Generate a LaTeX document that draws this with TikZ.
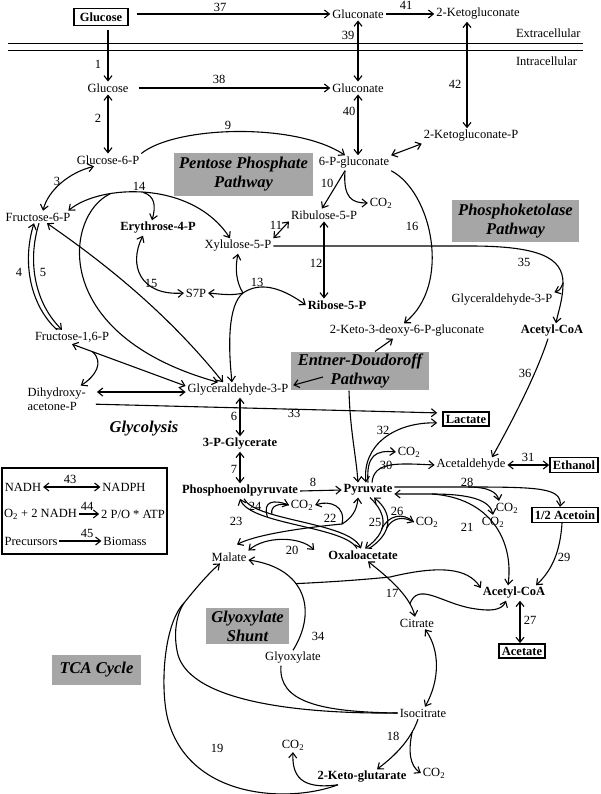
\documentclass[tikz,border=0pt]{standalone}
\usepackage{fontspec}
\setmainfont{Liberation Serif}
\usetikzlibrary{arrows.meta}

\begin{document}
\begin{tikzpicture}[x=1pt,y=-1pt,line width=1.1pt,
    >={Straight Barb[length=5pt,width=8pt]},
    met/.style={font=\fontsize{12.5}{14}\selectfont,inner sep=1.5pt},
    metb/.style={font=\fontsize{12.5}{14}\selectfont\bfseries,inner sep=1.5pt},
    ext/.style={metb,draw,line width=1.4pt,inner sep=3pt},
    num/.style={font=\fontsize{12.5}{14}\selectfont,inner sep=0pt},
    pathway/.style={fill=black!35,font=\fontsize{16.5}{19}\selectfont\bfseries\itshape,align=center,inner sep=0pt}]
  \useasboundingbox (0,0) rectangle (600,794);

  % membrane
  \draw[line width=0.9pt] (8,43) -- (583,43);
  \draw[line width=0.9pt] (8,50) -- (583,50);
  \node[met,anchor=west] (extra) at (514,33) {Extracellular};
  \node[met,anchor=west] (intra) at (514,61) {Intracellular};

  % pathway boxes
  \node[pathway,minimum width=139pt,minimum height=43pt] (ppp) at (243.5,174.5) {Pentose Phosphate\\Pathway};
  \node[pathway,minimum width=127pt,minimum height=42pt] (pkp) at (515.5,221) {Phosphoketolase\\Pathway};
  \node[pathway,minimum width=138pt,minimum height=38pt] (edp) at (360,371) {Entner-Doudoroff\\Pathway};
  \node[pathway,minimum width=83pt,minimum height=36pt] (gsh) at (247.5,626) {Glyoxylate\\Shunt};
  \node[pathway,minimum width=89pt,minimum height=30pt] (tca) at (96.5,670) {TCA Cycle};
  \node[font=\fontsize{16.5}{19}\selectfont\bfseries\itshape,inner sep=0pt] (glyc) at (144,429) {Glycolysis};

  % metabolites
  \node[ext,inner xsep=6pt,inner ysep=4pt] (glcex) at (101,17) {Glucose};
  \node[met] (glcnex) at (358,14) {Gluconate};
  \node[met] (kglcex) at (478,14) {2-Ketogluconate};
  \node[met] (glc) at (108,88) {Glucose};
  \node[met] (glcn) at (358,88) {Gluconate};
  \node[met] (kglcp) at (471,136) {2-Ketogluconate-P};
  \node[met] (g6p) at (108,160) {Glucose-6-P};
  \node[met] (pg6) at (354,163) {6-P-gluconate};
  \node[met] (f6p) at (38,217) {Fructose-6-P};
  \node[metb] (e4p) at (158,228) {Erythrose-4-P};
  \node[met] (x5p) at (238,246) {Xylulose-5-P};
  \node[met] (ru5p) at (324,215) {Ribulose-5-P};
  \node[met] (co2a) at (381,203) {CO\textsubscript{2}};
  \node[metb] (r5p) at (337,305) {Ribose-5-P};
  \node[met] (s7p) at (196,293) {S7P};
  \node[met] (f16p) at (72,337) {Fructose-1,6-P};
  \node[met,align=left,anchor=west] (dhap) at (25.5,399) {Dihydroxy-\\acetone-P};
  \node[met] (g3p) at (238,390) {Glyceraldehyde-3-P};
  \node[met] (kdpg) at (407,331) {2-Keto-3-deoxy-6-P-gluconate};
  \node[met] (g3pk) at (502,300) {Glyceraldehyde-3-P};
  \node[metb] (accoa) at (552,331) {Acetyl-CoA};
  \node[metb] (pg3) at (240,444) {3-P-Glycerate};
  \node[metb] (pep) at (240,491) {Phosphoenolpyruvate};
  \node[metb] (pyr) at (368,490) {Pyruvate};
  \node[ext] (lac) at (466,419) {Lactate};
  \node[met] (acald) at (471,465) {Acetaldehyde};
  \node[ext] (etoh) at (574,465) {Ethanol};
  \node[ext] (acn) at (565,515) {1/2 Acetoin};
  \node[met] (co2b) at (409,452) {CO\textsubscript{2}};
  \node[met] (co2c) at (507,508) {CO\textsubscript{2}};
  \node[met] (co2d) at (493,522) {CO\textsubscript{2}};
  \node[met] (co2e) at (302,505) {CO\textsubscript{2}};
  \node[met] (co2f) at (427,522) {CO\textsubscript{2}};
  \node[metb] (oaa) at (363,555) {Oxaloacetate};
  \node[met] (mal) at (229,557) {Malate};
  \node[metb] (accoab) at (514,593) {Acetyl-CoA};
  \node[ext] (ace) at (522,651) {Acetate};
  \node[met] (cit) at (417,623) {Citrate};
  \node[met] (glx) at (293,658) {Glyoxylate};
  \node[met] (icit) at (423,713) {Isocitrate};
  \node[metb] (akg) at (362,777) {2-Keto-glutarate};
  \node[met] (co2g) at (293,745) {CO\textsubscript{2}};
  \node[met] (co2h) at (434,773) {CO\textsubscript{2}};

  % legend
  \draw[line width=1.2pt] (2,468) rectangle (167,554);
  \node[met] (nadh) at (23,487) {NADH};
  \node[met] (nadph) at (124,487) {NADPH};
  \node[met] (nadhb) at (40.5,514) {O\textsubscript{2} + 2 NADH};
  \node[met] (atp) at (133,514) {2 P/O * ATP};
  \node[met] (prec) at (31,541) {Precursors};
  \node[met] (biom) at (125,541) {Biomass};
  \draw[<->] (nadh) -- (nadph);
  \draw[->] (nadhb) -- (atp);
  \draw[->] (prec) -- (biom);

  % reaction numbers
  \foreach \n/\x/\y in {37/220/7, 41/406/5, 1/98/64, 38/219/79, 39/348/35, 42/455/84,
      40/349/111, 2/98/118, 9/228/125, 3/57/181, 14/139/186, 10/327/183, 11/276/225,
      16/412/226, 4/19/272, 5/43/272, 12/316/263, 15/151/283, 13/257/282, 35/524/262,
      36/525/373, 33/294/413, 6/234/416, 32/383/430, 7/234/469, 30/386/465, 31/528/457,
      8/313/482, 28/467/482, 24/255/506, 23/236/521, 22/330/518, 25/375/522, 26/397/511,
      21/467/527, 20/292/550, 17/392/593, 29/564/557, 27/530/620, 34/318/636, 19/217/748,
      18/393/736, 43/70/479, 44/87/506, 45/87/533}
    \node[num] (r\n) at (\x,\y) {\n};

  % uptake and oxidation
  \draw[->,shorten <=8pt] (glcex.east |- glcnex.west) -- (glcnex.west);
  \draw[->] (glcnex.east) -- (kglcex.west);
  \draw[->,shorten <=4pt] (glcex.south -| glc.north) -- (glc.north);
  \draw[->,shorten <=8pt] (glc.east) -- (glcn.west);
  \draw[<->] (glcnex.south) -- (glcn.north);
  \draw[<->] ([xshift=-11]kglcex.south) -- ([xshift=-11]kglcex.south |- kglcp.north);
  \draw[<->] (glcn.south) -- (glcn.south |- pg6.north);
  \draw[<->] (pg6.north east) -- (kglcp.south west);
  \draw[<->] (glc.south) -- (g6p.north);
  \draw[->] (g6p.north east) .. controls (175,126) and (295,122) .. ([xshift=-9]pg6.north);

  % pentose phosphate
  \draw[->] ([xshift=-9]pg6.south) -- ([xshift=-2]ru5p.north);
  \draw[->] ([xshift=-9]pg6.south) .. controls (343,198) and (352,203) .. (co2a.west);
  \draw[->] (pg6.south east) .. controls (432,192) and (452,285) .. ([xshift=-3]kdpg.north);
  \draw[<->] (ru5p.south west) -- (x5p.north east);
  \draw[<->] (ru5p.south) -- (ru5p.south |- r5p.north);
  \draw[<->] ([xshift=-4]f6p.north east) .. controls (100,184) and (192,180) .. ([xshift=-8]x5p.north)
    coordinate[pos=0.3] (a14) coordinate[pos=0.48] (b14);
  \draw[->] (b14) .. controls (155,196) and (156,206) .. ([xshift=-6]e4p.north);
  \draw[->] (a14) .. controls (65,215) and (48,335) .. ([xshift=-20]g3p.north);
  \draw[<->] ([xshift=9]f6p.south) .. controls (100,260) and (165,310) .. ([xshift=-15]g3p.north);
  \draw[<->] ([xshift=-15]e4p.south) .. controls (128,265) and (140,296) .. (s7p.west);
  \coordinate (j13) at (243,293);
  \draw[->] (j13) .. controls (236,282) and (235,268) .. (x5p.south);
  \draw[->] (j13) .. controls (232,296) and (220,294) .. (s7p.east);
  \draw[->] (j13) .. controls (228,305) and (228,345) .. ([xshift=-6]g3p.north);
  \draw[->] (j13) .. controls (262,280) and (285,290) .. (r5p.west);

  % glycolysis
  \draw[<->] ([xshift=5]f6p.north) .. controls (48,190) and (70,172) .. ([xshift=-14]g6p.south);
  \draw[<-] ([xshift=-4]f6p.south) .. controls (22,262) and (30,305) .. ([xshift=-15]f16p.north);
  \draw[->] ([xshift=1]f6p.south) .. controls (27,262) and (35,303) .. ([xshift=-10]f16p.north);
  \draw[<->] (f16p.south) -- ([yshift=4]g3p.west) coordinate[pos=0.18] (j4);
  \draw[->] (j4) .. controls (104,362) and (96,376) .. ([xshift=24]dhap.north);
  \draw[<->,shorten <=9pt] ([yshift=7]dhap.east) -- ([yshift=-2]g3p.west);
  \draw[->,shorten <=8pt,shorten >=5pt] ([yshift=-5]dhap.east) -- ([yshift=6]lac.west);
  \draw[<->] (pg3.north |- g3p.south) -- (pg3.north);
  \draw[<->] (pg3.south) -- (pep.north);
  \draw[->] (pep.east) -- (pyr.west);

  % Entner-Doudoroff
  \draw[->] ([xshift=15]edp.north) -- ([xshift=-14]kdpg.south);
  \draw[->,shorten >=3pt] ([xshift=-37,yshift=-6]edp.center) -- ([yshift=4]g3p.east);
  \draw[->] ([xshift=-11]edp.south) .. controls (350,430) and (356,455) .. ([xshift=-10]pyr.north);

  % phosphoketolase
  \coordinate (j35) at (563,283);
  \draw[->] (x5p.east) -- (470,246) .. controls (540,246) and (563,258) .. (j35)
    .. controls (563,300) and (558,312) .. ([xshift=4]accoa.north);
  \draw[->] (j35) .. controls (560,290) .. (g3pk.north east);
  \draw[->] ([xshift=-4]accoa.south) .. controls (535,378) and (510,425) .. ([xshift=21]acald.north);

  % pyruvate node
  \draw[<->,shorten >=5pt] ([xshift=-2]pyr.north) .. controls (362,445) and (395,422) .. ([yshift=-4]lac.west);
  \draw[->] ([xshift=4]pyr.north) .. controls (374,462) and (395,463) .. (acald.west);
  \draw[->] (pyr.north) .. controls (366,455) and (376,450) .. (co2b.west);
  \draw[<->] (acald.east) -- (etoh.west);
  \coordinate (j28) at (468,487);
  \draw[->] ([yshift=3]pyr.east) -- (j28) .. controls (540,487) and (562,488) .. ([xshift=-5]acn.north);
  \draw[->] (j28) .. controls (488,487) and (497,492) .. ([xshift=-8]co2c.north);
  \coordinate (j21) at (432,494);
  \draw[<->] ([yshift=-4]pyr.east) -- (j21) .. controls (490,498) and (514,540) .. ([xshift=-6]accoab.north);
  \draw[->] (j21) .. controls (470,494) and (490,500) .. (co2d.north);
  \draw[->] ([xshift=2]pyr.south) .. controls (388,515) and (388,532) .. ([xshift=2]oaa.north)
    coordinate[pos=0.62] (j25);
  \draw[<-] ([xshift=6]pyr.south) .. controls (393,513) and (393,533) .. ([xshift=6]oaa.north)
    coordinate[pos=0.6] (j26);
  \draw[->] (j26) .. controls (392,518) and (402,516) .. (co2f.west);
  \draw (j25) .. controls (388,515) and (403,512) .. (co2f.west);

  % anaplerosis
  \draw[<-] (pep.south) .. controls (250,525) and (345,526) .. ([xshift=-6]oaa.north)
    coordinate[pos=0.3] (j23);
  \draw[->] ([xshift=4]pep.south) .. controls (255,521) and (349,522) .. ([xshift=-2]oaa.north)
    coordinate[pos=0.3] (j24);
  \draw[->] (j23) .. controls (262,500) and (275,500) .. (co2e.west);
  \draw (j24) .. controls (270,505) and (280,503) .. (co2e.west);
  \coordinate (j22) at (342,524);
  \draw[<->] ([xshift=8,yshift=6]mal.north) .. controls (255,535) and (300,528) .. (j22)
    .. controls (352,518) and (357,510) .. ([xshift=-10]pyr.south);
  \draw[->] (j22) .. controls (346,506) and (330,500) .. (co2e.east);
  \draw[<->] (mal.north east) .. controls (265,536) and (300,536) .. ([xshift=-12,yshift=5]oaa.west);

  % TCA and glyoxylate shunt
  \draw[<->] ([xshift=5]oaa.south) .. controls (385,575) and (410,595) .. ([xshift=-2]cit.north)
    coordinate[pos=0.8] (j17);
  \draw[->] (j17) .. controls (418,582) and (440,602) .. (470,608) .. controls (492,612) and (502,610) .. ([xshift=-8]accoab.south);
  \draw[->] (glx.north) .. controls (318,610) and (305,568) .. ([yshift=-3]mal.east) coordinate[pos=0.6] (j34);
  \draw[->] (j34) .. controls (330,582) and (360,580) .. (390,577) .. controls (440,565) and (468,568) .. ([yshift=5]accoab.west);
  \draw[->] ([xshift=-3]acn.south) .. controls (560,555) and (550,572) .. ([xshift=22]accoab.north);
  \draw[<->] ([xshift=6]accoab.south) -- ([xshift=6]accoab.south |- ace.north);
  \draw[<->] ([xshift=8]cit.south) .. controls (440,650) and (440,680) .. ([xshift=2]icit.north);
  \draw[->] ([xshift=-5]icit.south) .. controls (410,742) and (392,758) .. ([xshift=15]akg.north) coordinate[pos=0.2] (j18);
  \draw[->] (j18) .. controls (408,752) and (410,766) .. (co2h.west);
  \draw[->] ([xshift=-24]akg.south) .. controls (290,803) and (190,800) .. (168,720)
    .. controls (160,690) and (163,625) .. (184,603) coordinate (j19)
    .. controls (196,588) and (208,574) .. ([xshift=-9]mal.south);
  \draw[->] ([xshift=-24]akg.south) .. controls (300,790) and (292,775) .. (co2g.south);
  \draw (icit.west) .. controls (320,712) and (278,702) .. ([xshift=-12]glx.south);
  \draw (icit.west) .. controls (300,714) and (192,702) .. (178,655) .. controls (173,635) and (176,615) .. (j19);
\end{tikzpicture}
\end{document}
